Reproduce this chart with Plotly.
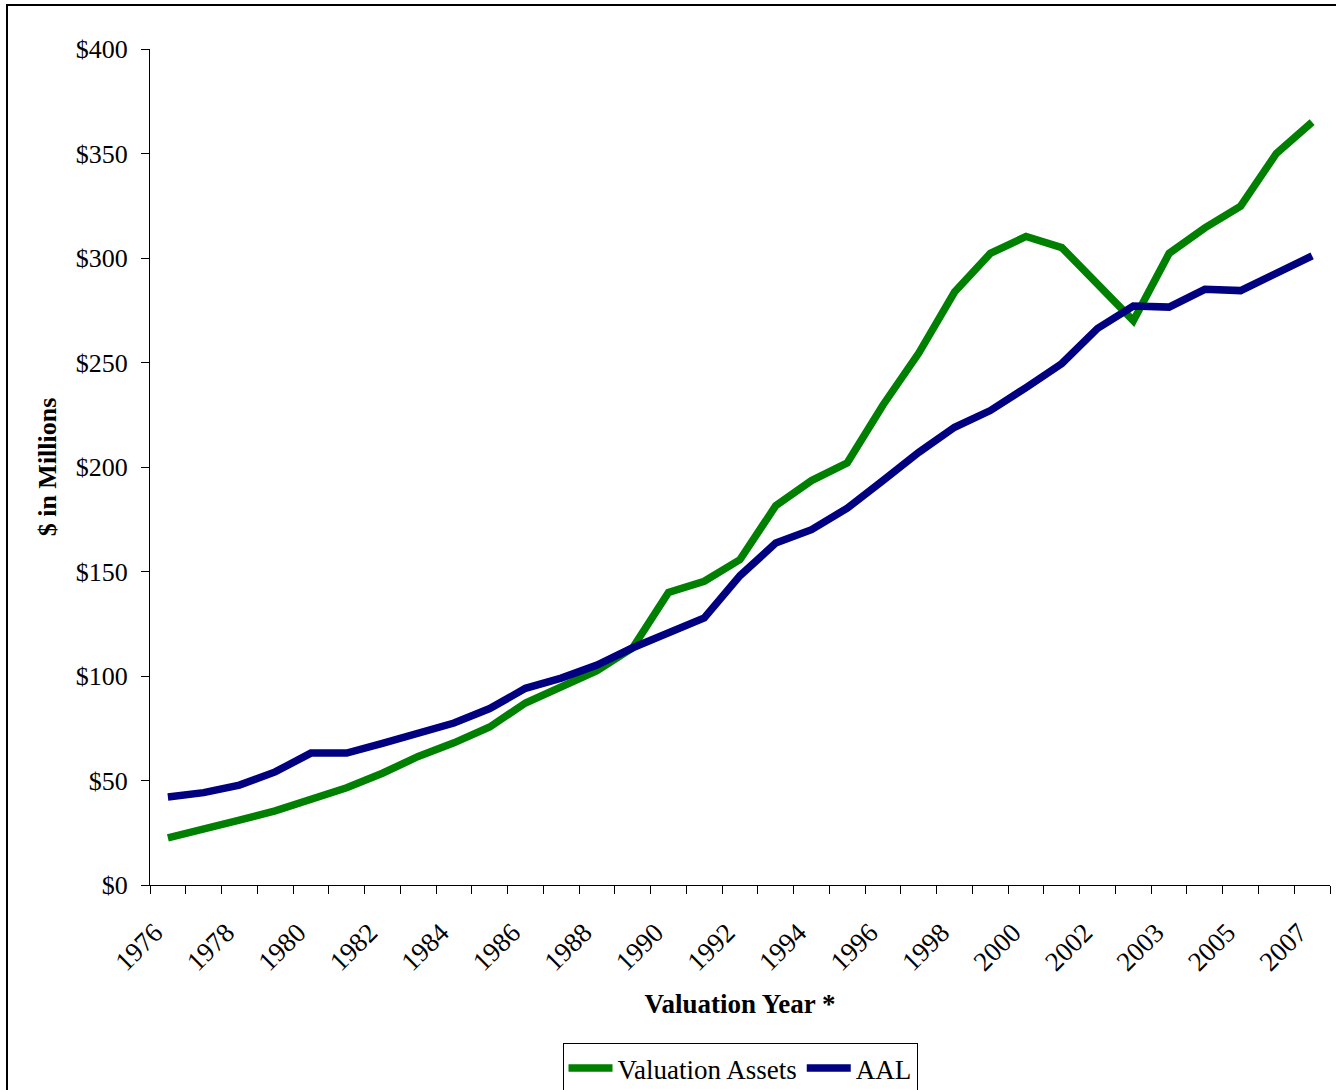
import plotly.graph_objects as go

years = ["1976", "1977", "1978", "1979", "1980", "1981", "1982", "1983", "1984",
         "1985", "1986", "1987", "1988", "1989", "1990", "1991", "1992", "1993",
         "1994", "1995", "1996", "1997", "1998", "1999", "2000", "2001", "2002",
         "2002", "2003", "2004", "2005", "2006", "2007"]

valuation_assets = [22.5, 26.3, 31.0, 35.5, 41.0, 46.5, 53.5, 61.5, 68.0, 75.6,
                    87.1, 94.5, 102.5, 113.5, 140.0, 145.3, 155.7, 181.5, 193.5,
                    202.0, 229.7, 254.5, 283.7, 302.2, 310.3, 305.0, 287.5, 270.0,
                    302.2, 314.4, 324.8, 350.0, 365.0]

aal = [42.1, 44.2, 47.8, 54.1, 63.1, 63.1, 67.8, 72.3, 77.5, 84.4, 94.1, 99.0,
       105.2, 113.5, 120.3, 127.8, 148.0, 163.6, 170.0, 180.3, 193.5, 207.0,
       219.0, 227.0, 238.0, 249.5, 266.3, 277.0, 276.5, 285.0, 284.4, 293.0, 301.0]

y_ticks = [0, 50, 100, 150, 200, 250, 300, 350, 400]

idx = list(range(len(years)))
FONT = "Liberation Serif, Times New Roman, serif"

W, H = 1336, 1090
L, R, T, B = 150, 6, 49, 205
PW, PH = W - L - R, H - T - B

def px_x(x):
    return (x - L) / PW

def px_y(y):
    return (H - B - y) / PH

fig = go.Figure()
fig.add_trace(go.Scatter(x=idx, y=valuation_assets, mode="lines",
                         name="Valuation Assets",
                         line=dict(color="#008000", width=7.5)))
fig.add_trace(go.Scatter(x=idx, y=aal, mode="lines", name="AAL",
                         line=dict(color="#000080", width=7.5)))

fig.update_layout(
    width=W, height=H,
    margin=dict(l=L, r=R, t=T, b=B, autoexpand=False),
    plot_bgcolor="white", paper_bgcolor="white",
    font=dict(family=FONT, size=26, color="black"),
    showlegend=True,
    legend=dict(orientation="h", x=0.5, xanchor="center", y=px_y(1043),
                yanchor="top", bordercolor="black", borderwidth=1,
                font=dict(family=FONT, size=27), itemwidth=44,
                tracegroupgap=0, bgcolor="white"),
    shapes=[dict(type="rect", xref="paper", yref="paper",
                 x0=px_x(7), x1=px_x(1350),
                 y0=px_y(1100), y1=px_y(5),
                 line=dict(color="black", width=2), layer="below")],
)

fig.update_xaxes(
    range=[-0.5, len(years) - 0.5],
    tickmode="array",
    tickvals=idx[::2],
    ticktext=years[::2],
    tickangle=-45,
    ticks="outside", ticklen=0,
    ticklabelstandoff=20,
    ticklabelshift=-13,
    showline=True, linecolor="black", linewidth=1,
    showgrid=False, zeroline=False,
    tickfont=dict(family=FONT, size=27),
    minor=dict(tickmode="array", tickvals=[i - 0.5 for i in range(len(years) + 1)],
               ticks="outside", ticklen=8, tickcolor="black", tickwidth=1,
               showgrid=False),
    title=dict(text="<b>Valuation Year *</b>", font=dict(family=FONT, size=27),
               standoff=18),
)

fig.update_yaxes(
    range=[0, 400],
    tickmode="array",
    tickvals=y_ticks,
    ticktext=["$" + str(v) for v in y_ticks],
    ticks="outside", ticklen=8, tickcolor="black",
    ticklabelstandoff=8,
    showline=True, linecolor="black", linewidth=1,
    showgrid=False, zeroline=False,
    tickfont=dict(family=FONT, size=26),
    title=dict(text="<b>$ in Millions</b>", font=dict(family=FONT, size=26),
               standoff=11),
)

fig.write_html("out.html",
               config={"displayModeBar": False},
               post_script="document.body.style.margin='0';"
                           "document.body.style.overflow='hidden';")
